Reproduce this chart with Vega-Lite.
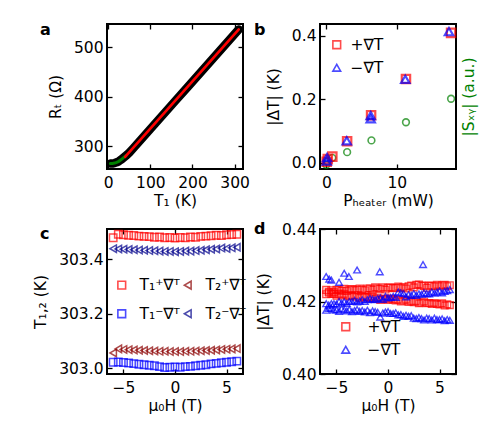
{
  "$schema": "https://vega.github.io/schema/vega-lite/v6.json",
  "background": "white",
  "padding": {"left": 32, "top": 21, "right": 5, "bottom": 5},
  "config": {
    "font": "DejaVu Sans",
    "view": {"stroke": "black", "strokeWidth": 2},
    "axis": {"domain": false, "grid": false, "minExtent": 0, "tickSize": -5, "tickWidth": 1.3, "tickColor": "black", "labelFontSize": 15.5, "labelColor": "black", "labelPadding": 9, "labelFlush": false, "labelOverlap": false, "titleFontSize": 15.5, "titleFontWeight": "normal", "titleColor": "black"},
    "axisX": {"titlePadding": 3, "labelPadding": 11},
    "axisY": {"titlePadding": 10},
    "legend": {"padding": 0, "labelFontSize": 15.5, "labelColor": "black", "symbolStrokeWidth": 1.6, "symbolSize": 60, "rowPadding": 6},
    "title": {"fontSize": 16, "fontWeight": "bold", "anchor": "start", "frame": "group", "offset": -15, "dx": -67, "color": "black"}
  },
  "columns": 2,
  "align": "each",
  "spacing": {"row": 10, "column": 2},
  "resolve": {
    "scale": {"color": "independent", "shape": "independent"},
    "legend": {"color": "independent", "shape": "independent"}
  },
  "concat": [
    {
      "title": {"text": "a"},
      "width": 136, "height": 145,
      "data": {"values": [
        {"t": 5, "r": 265, "k": "meas"}, {"t": 10, "r": 265.2, "k": "meas"}, {"t": 15, "r": 266, "k": "meas"}, {"t": 20, "r": 267.5, "k": "meas"},
        {"t": 25, "r": 269.5, "k": "meas"}, {"t": 30, "r": 272.5, "k": "meas"}, {"t": 35, "r": 276, "k": "meas"}, {"t": 40, "r": 279.5, "k": "meas"},
        {"t": 45, "r": 283, "k": "meas"}, {"t": 50, "r": 287, "k": "meas"}, {"t": 60, "r": 296.5, "k": "meas"}, {"t": 80, "r": 315.7, "k": "meas"},
        {"t": 100, "r": 334.9, "k": "meas"}, {"t": 130, "r": 363.6, "k": "meas"}, {"t": 160, "r": 392.4, "k": "meas"}, {"t": 190, "r": 421.1, "k": "meas"},
        {"t": 220, "r": 449.8, "k": "meas"}, {"t": 250, "r": 478.6, "k": "meas"}, {"t": 280, "r": 507.3, "k": "meas"}, {"t": 310, "r": 536, "k": "meas"},
        {"t": 5, "r": 265, "k": "low"}, {"t": 10, "r": 265.2, "k": "low"}, {"t": 15, "r": 266, "k": "low"}, {"t": 20, "r": 267.5, "k": "low"},
        {"t": 25, "r": 269.5, "k": "low"}, {"t": 30, "r": 272.5, "k": "low"}, {"t": 35, "r": 276, "k": "low"}, {"t": 42, "r": 281, "k": "low"},
        {"t": 40, "r": 278.7, "k": "fit"}, {"t": 310, "r": 536, "k": "fit"}
      ]},
      "layer": [
        {
          "transform": [{"filter": "datum.k === 'meas'"}],
          "mark": {"type": "line", "color": "black", "strokeWidth": 8.5, "strokeCap": "round", "strokeJoin": "round"},
          "encoding": {
            "x": {"field": "t", "type": "quantitative", "scale": {"domain": [-3, 320], "nice": false, "zero": false}, "axis": {"values": [0, 100, 200, 300], "title": "T₁ (K)"}},
            "y": {"field": "r", "type": "quantitative", "scale": {"domain": [254, 547], "nice": false, "zero": false}, "axis": {"values": [300, 400, 500], "title": "Rₜ (Ω)"}}
          }
        },
        {
          "transform": [{"filter": "datum.k === 'low'"}],
          "mark": {"type": "line", "color": "#008000", "strokeWidth": 3, "strokeCap": "round"},
          "encoding": {
            "x": {"field": "t", "type": "quantitative", "axis": null},
            "y": {"field": "r", "type": "quantitative", "axis": null}
          }
        },
        {
          "transform": [{"filter": "datum.k === 'fit'"}],
          "mark": {"type": "line", "color": "#ff0000", "strokeWidth": 2.6, "strokeCap": "round"},
          "encoding": {
            "x": {"field": "t", "type": "quantitative", "axis": null},
            "y": {"field": "r", "type": "quantitative", "axis": null}
          }
        },
        {
          "transform": [{"filter": "datum.k === 'fit'"}],
          "mark": {"type": "point", "opacity": 0},
          "encoding": {
            "x": {"field": "t", "type": "quantitative", "axis": {"orient": "top", "labels": false, "title": null, "values": [0, 100, 200, 300]}},
            "y": {"field": "r", "type": "quantitative", "axis": {"orient": "right", "labels": false, "title": null, "values": [300, 400, 500]}}
          }
        }
      ],
      "resolve": {"axis": {"x": "independent", "y": "independent"}}
    },
    {
      "title": {"text": "b", "dx": -66},
      "width": 136, "height": 145,
      "data": {"values": [
        {"p": 0.05, "v": 0.004, "s": "+∇T"}, {"p": 0.2, "v": 0.012, "s": "+∇T"}, {"p": 0.85, "v": 0.02, "s": "+∇T"}, {"p": 2.95, "v": 0.068, "s": "+∇T"},
        {"p": 6.35, "v": 0.15, "s": "+∇T"}, {"p": 11.3, "v": 0.264, "s": "+∇T"}, {"p": 17.7, "v": 0.409, "s": "+∇T"},
        {"p": 0.05, "v": 0.006, "s": "−∇T"}, {"p": 0.1, "v": 0.017, "s": "−∇T"}, {"p": 2.9, "v": 0.07, "s": "−∇T"}, {"p": 6.3, "v": 0.139, "s": "−∇T"},
        {"p": 6.3, "v": 0.149, "s": "−∇T"}, {"p": 11.2, "v": 0.263, "s": "−∇T"}, {"p": 17.4, "v": 0.413, "s": "−∇T"},
        {"p": 0.0, "v": -0.006, "s": "S"}, {"p": 0.1, "v": 0.004, "s": "S"}, {"p": 0.85, "v": 0.016, "s": "S"}, {"p": 2.95, "v": 0.034, "s": "S"},
        {"p": 6.4, "v": 0.071, "s": "S"}, {"p": 11.3, "v": 0.128, "s": "S"}, {"p": 17.7, "v": 0.202, "s": "S"}
      ]},
      "layer": [
        {
          "transform": [{"filter": "datum.s === 'S'"}],
          "mark": {"type": "point", "shape": "circle", "filled": false, "color": "#008000", "strokeWidth": 1.6, "size": 45},
          "encoding": {
            "x": {"field": "p", "type": "quantitative", "scale": {"domain": [-0.9, 18.4], "nice": false, "zero": false}, "axis": null},
            "y": {"field": "v", "type": "quantitative", "scale": {"domain": [-0.019, 0.437], "nice": false, "zero": false}, "axis": {"orient": "right", "labels": false, "ticks": false, "title": "|Sₓᵧ| (a.u.)", "titleColor": "#008000", "titleAngle": 270, "titleBaseline": "top", "titlePadding": 5}}
          }
        },
        {
          "transform": [{"filter": "datum.s !== 'S'"}],
          "mark": {"type": "point", "filled": false, "strokeWidth": 2.2, "size": 70},
          "encoding": {
            "x": {"field": "p", "type": "quantitative", "axis": {"values": [0, 10], "title": "Pₕₑₐₜₑᵣ (mW)"}},
            "y": {"field": "v", "type": "quantitative", "axis": {"values": [0, 0.2, 0.4], "format": ".1f", "title": "|ΔT| (K)"}},
            "color": {"field": "s", "type": "nominal", "scale": {"domain": ["+∇T", "−∇T"], "range": ["#ff0000", "#0000ff"]}, "legend": {"title": null, "orient": "none", "legendX": 9, "legendY": 13, "labelOffset": 6}},
            "shape": {"field": "s", "type": "nominal", "scale": {"domain": ["+∇T", "−∇T"], "range": ["square", "triangle-up"]}, "legend": {"title": null, "orient": "none", "legendX": 9, "legendY": 13, "labelOffset": 6}}
          }
        },
        {
          "transform": [{"filter": "datum.s !== 'S'"}],
          "mark": {"type": "point", "opacity": 0},
          "encoding": {
            "x": {"field": "p", "type": "quantitative", "axis": {"orient": "top", "labels": false, "title": null, "values": [0, 10]}},
            "y": {"field": "v", "type": "quantitative", "axis": null}
          }
        }
      ],
      "resolve": {"axis": {"x": "independent", "y": "independent"}}
    },
    {
      "title": {"text": "c"},
      "width": 136, "height": 145,
      "data": {"values": [
        {"h": -6, "t": 303.478, "s": "T₁⁺∇ᵀ"}, {"h": -5.5, "t": 303.491, "s": "T₁⁺∇ᵀ"}, {"h": -5, "t": 303.489, "s": "T₁⁺∇ᵀ"}, {"h": -4.5, "t": 303.487, "s": "T₁⁺∇ᵀ"},
        {"h": -4, "t": 303.486, "s": "T₁⁺∇ᵀ"}, {"h": -3.5, "t": 303.484, "s": "T₁⁺∇ᵀ"}, {"h": -3, "t": 303.483, "s": "T₁⁺∇ᵀ"}, {"h": -2.5, "t": 303.482, "s": "T₁⁺∇ᵀ"},
        {"h": -2, "t": 303.48, "s": "T₁⁺∇ᵀ"}, {"h": -1.5, "t": 303.481, "s": "T₁⁺∇ᵀ"}, {"h": -1, "t": 303.478, "s": "T₁⁺∇ᵀ"}, {"h": -0.5, "t": 303.479, "s": "T₁⁺∇ᵀ"},
        {"h": 0, "t": 303.477, "s": "T₁⁺∇ᵀ"}, {"h": 0.5, "t": 303.479, "s": "T₁⁺∇ᵀ"}, {"h": 1, "t": 303.478, "s": "T₁⁺∇ᵀ"}, {"h": 1.5, "t": 303.481, "s": "T₁⁺∇ᵀ"},
        {"h": 2, "t": 303.48, "s": "T₁⁺∇ᵀ"}, {"h": 2.5, "t": 303.483, "s": "T₁⁺∇ᵀ"}, {"h": 3, "t": 303.484, "s": "T₁⁺∇ᵀ"}, {"h": 3.5, "t": 303.485, "s": "T₁⁺∇ᵀ"},
        {"h": 4, "t": 303.487, "s": "T₁⁺∇ᵀ"}, {"h": 4.5, "t": 303.486, "s": "T₁⁺∇ᵀ"}, {"h": 5, "t": 303.489, "s": "T₁⁺∇ᵀ"}, {"h": 5.5, "t": 303.49, "s": "T₁⁺∇ᵀ"},
        {"h": 6, "t": 303.491, "s": "T₁⁺∇ᵀ"},
        {"h": -6, "t": 303.056, "s": "T₂⁺∇ᵀ"}, {"h": -5.5, "t": 303.071, "s": "T₂⁺∇ᵀ"}, {"h": -5, "t": 303.069, "s": "T₂⁺∇ᵀ"}, {"h": -4.5, "t": 303.068, "s": "T₂⁺∇ᵀ"},
        {"h": -4, "t": 303.067, "s": "T₂⁺∇ᵀ"}, {"h": -3.5, "t": 303.066, "s": "T₂⁺∇ᵀ"}, {"h": -3, "t": 303.065, "s": "T₂⁺∇ᵀ"}, {"h": -2.5, "t": 303.064, "s": "T₂⁺∇ᵀ"},
        {"h": -2, "t": 303.063, "s": "T₂⁺∇ᵀ"}, {"h": -1.5, "t": 303.062, "s": "T₂⁺∇ᵀ"}, {"h": -1, "t": 303.062, "s": "T₂⁺∇ᵀ"}, {"h": -0.5, "t": 303.061, "s": "T₂⁺∇ᵀ"},
        {"h": 0, "t": 303.061, "s": "T₂⁺∇ᵀ"}, {"h": 0.5, "t": 303.061, "s": "T₂⁺∇ᵀ"}, {"h": 1, "t": 303.062, "s": "T₂⁺∇ᵀ"}, {"h": 1.5, "t": 303.062, "s": "T₂⁺∇ᵀ"},
        {"h": 2, "t": 303.063, "s": "T₂⁺∇ᵀ"}, {"h": 2.5, "t": 303.064, "s": "T₂⁺∇ᵀ"}, {"h": 3, "t": 303.065, "s": "T₂⁺∇ᵀ"}, {"h": 3.5, "t": 303.066, "s": "T₂⁺∇ᵀ"},
        {"h": 4, "t": 303.067, "s": "T₂⁺∇ᵀ"}, {"h": 4.5, "t": 303.069, "s": "T₂⁺∇ᵀ"}, {"h": 5, "t": 303.07, "s": "T₂⁺∇ᵀ"}, {"h": 5.5, "t": 303.071, "s": "T₂⁺∇ᵀ"},
        {"h": 6, "t": 303.072, "s": "T₂⁺∇ᵀ"},
        {"h": -6, "t": 303.022, "s": "T₁⁻∇ᵀ"}, {"h": -5.5, "t": 303.023, "s": "T₁⁻∇ᵀ"}, {"h": -5, "t": 303.021, "s": "T₁⁻∇ᵀ"}, {"h": -4.5, "t": 303.019, "s": "T₁⁻∇ᵀ"},
        {"h": -4, "t": 303.017, "s": "T₁⁻∇ᵀ"}, {"h": -3.5, "t": 303.015, "s": "T₁⁻∇ᵀ"}, {"h": -3, "t": 303.013, "s": "T₁⁻∇ᵀ"}, {"h": -2.5, "t": 303.011, "s": "T₁⁻∇ᵀ"},
        {"h": -2, "t": 303.009, "s": "T₁⁻∇ᵀ"}, {"h": -1.5, "t": 303.006, "s": "T₁⁻∇ᵀ"}, {"h": -1, "t": 303.003, "s": "T₁⁻∇ᵀ"}, {"h": -0.5, "t": 303.004, "s": "T₁⁻∇ᵀ"},
        {"h": 0, "t": 303.005, "s": "T₁⁻∇ᵀ"}, {"h": 0.5, "t": 303.004, "s": "T₁⁻∇ᵀ"}, {"h": 1, "t": 303.006, "s": "T₁⁻∇ᵀ"}, {"h": 1.5, "t": 303.007, "s": "T₁⁻∇ᵀ"},
        {"h": 2, "t": 303.009, "s": "T₁⁻∇ᵀ"}, {"h": 2.5, "t": 303.011, "s": "T₁⁻∇ᵀ"}, {"h": 3, "t": 303.013, "s": "T₁⁻∇ᵀ"}, {"h": 3.5, "t": 303.016, "s": "T₁⁻∇ᵀ"},
        {"h": 4, "t": 303.018, "s": "T₁⁻∇ᵀ"}, {"h": 4.5, "t": 303.02, "s": "T₁⁻∇ᵀ"}, {"h": 5, "t": 303.022, "s": "T₁⁻∇ᵀ"}, {"h": 5.5, "t": 303.024, "s": "T₁⁻∇ᵀ"},
        {"h": 6, "t": 303.026, "s": "T₁⁻∇ᵀ"},
        {"h": -6, "t": 303.438, "s": "T₂⁻∇ᵀ"}, {"h": -5.5, "t": 303.437, "s": "T₂⁻∇ᵀ"}, {"h": -5, "t": 303.436, "s": "T₂⁻∇ᵀ"}, {"h": -4.5, "t": 303.435, "s": "T₂⁻∇ᵀ"},
        {"h": -4, "t": 303.434, "s": "T₂⁻∇ᵀ"}, {"h": -3.5, "t": 303.433, "s": "T₂⁻∇ᵀ"}, {"h": -3, "t": 303.432, "s": "T₂⁻∇ᵀ"}, {"h": -2.5, "t": 303.431, "s": "T₂⁻∇ᵀ"},
        {"h": -2, "t": 303.43, "s": "T₂⁻∇ᵀ"}, {"h": -1.5, "t": 303.429, "s": "T₂⁻∇ᵀ"}, {"h": -1, "t": 303.428, "s": "T₂⁻∇ᵀ"}, {"h": -0.5, "t": 303.428, "s": "T₂⁻∇ᵀ"},
        {"h": 0, "t": 303.427, "s": "T₂⁻∇ᵀ"}, {"h": 0.5, "t": 303.428, "s": "T₂⁻∇ᵀ"}, {"h": 1, "t": 303.429, "s": "T₂⁻∇ᵀ"}, {"h": 1.5, "t": 303.429, "s": "T₂⁻∇ᵀ"},
        {"h": 2, "t": 303.431, "s": "T₂⁻∇ᵀ"}, {"h": 2.5, "t": 303.432, "s": "T₂⁻∇ᵀ"}, {"h": 3, "t": 303.434, "s": "T₂⁻∇ᵀ"}, {"h": 3.5, "t": 303.436, "s": "T₂⁻∇ᵀ"},
        {"h": 4, "t": 303.437, "s": "T₂⁻∇ᵀ"}, {"h": 4.5, "t": 303.44, "s": "T₂⁻∇ᵀ"}, {"h": 5, "t": 303.439, "s": "T₂⁻∇ᵀ"}, {"h": 5.5, "t": 303.441, "s": "T₂⁻∇ᵀ"},
        {"h": 6, "t": 303.443, "s": "T₂⁻∇ᵀ"}
      ]},
      "layer": [
        {
          "mark": {"type": "point", "filled": false, "strokeWidth": 1.5, "size": 55},
          "encoding": {
            "x": {"field": "h", "type": "quantitative", "scale": {"domain": [-6.6, 6.6], "nice": false, "zero": false}, "axis": {"values": [-5, 0, 5], "title": "μ₀H (T)"}},
            "y": {"field": "t", "type": "quantitative", "scale": {"domain": [302.979, 303.51], "nice": false, "zero": false}, "axis": {"values": [303.0, 303.2, 303.4], "format": ".1f", "title": "T₁,₂ (K)"}},
            "color": {"field": "s", "type": "nominal", "scale": {"domain": ["T₁⁺∇ᵀ", "T₁⁻∇ᵀ", "T₂⁺∇ᵀ", "T₂⁻∇ᵀ"], "range": ["#ff0000", "#0000ff", "#8b0000", "#00008b"]}, "legend": {"title": null, "orient": "none", "legendX": 7, "legendY": 48, "columns": 2, "columnPadding": 0, "rowPadding": 12, "labelOffset": 10}},
            "shape": {"field": "s", "type": "nominal", "scale": {"domain": ["T₁⁺∇ᵀ", "T₁⁻∇ᵀ", "T₂⁺∇ᵀ", "T₂⁻∇ᵀ"], "range": ["square", "square", "triangle-left", "triangle-left"]}, "legend": {"title": null, "orient": "none", "legendX": 7, "legendY": 48, "columns": 2, "columnPadding": 0, "rowPadding": 12, "labelOffset": 10}}
          }
        },
        {
          "mark": {"type": "point", "opacity": 0},
          "encoding": {
            "x": {"field": "h", "type": "quantitative", "axis": {"orient": "top", "labels": false, "title": null, "values": [-5, 0, 5]}},
            "y": {"field": "t", "type": "quantitative", "axis": {"orient": "right", "labels": false, "title": null, "values": [303.0, 303.2, 303.4]}}
          }
        }
      ],
      "resolve": {"axis": {"x": "independent", "y": "independent"}}
    },
    {
      "title": {"text": "d", "dx": -66},
      "width": 136, "height": 145,
      "data": {"values": [
        {"h": -6, "d": 0.4232, "s": "+∇T"}, {"h": -5.75, "d": 0.4227, "s": "+∇T"}, {"h": -5.5, "d": 0.4231, "s": "+∇T"}, {"h": -5.25, "d": 0.4226, "s": "+∇T"},
        {"h": -5, "d": 0.4232, "s": "+∇T"}, {"h": -4.75, "d": 0.4231, "s": "+∇T"}, {"h": -4.5, "d": 0.423, "s": "+∇T"}, {"h": -4.25, "d": 0.4235, "s": "+∇T"},
        {"h": -4, "d": 0.4229, "s": "+∇T"}, {"h": -3.75, "d": 0.4233, "s": "+∇T"}, {"h": -3.5, "d": 0.4234, "s": "+∇T"}, {"h": -3.25, "d": 0.4231, "s": "+∇T"},
        {"h": -3, "d": 0.4233, "s": "+∇T"}, {"h": -2.75, "d": 0.4236, "s": "+∇T"}, {"h": -2.5, "d": 0.4233, "s": "+∇T"}, {"h": -2.25, "d": 0.4231, "s": "+∇T"},
        {"h": -2, "d": 0.4236, "s": "+∇T"}, {"h": -1.75, "d": 0.4236, "s": "+∇T"}, {"h": -1.5, "d": 0.4233, "s": "+∇T"}, {"h": -1.25, "d": 0.4239, "s": "+∇T"},
        {"h": -1, "d": 0.4236, "s": "+∇T"}, {"h": -0.75, "d": 0.4235, "s": "+∇T"}, {"h": -0.5, "d": 0.4239, "s": "+∇T"}, {"h": -0.25, "d": 0.4233, "s": "+∇T"},
        {"h": 0, "d": 0.4238, "s": "+∇T"}, {"h": 0.25, "d": 0.4239, "s": "+∇T"}, {"h": 0.5, "d": 0.4237, "s": "+∇T"}, {"h": 0.75, "d": 0.4238, "s": "+∇T"},
        {"h": 1, "d": 0.4241, "s": "+∇T"}, {"h": 1.25, "d": 0.4237, "s": "+∇T"}, {"h": 1.5, "d": 0.424, "s": "+∇T"}, {"h": 1.75, "d": 0.4236, "s": "+∇T"},
        {"h": 2, "d": 0.4242, "s": "+∇T"}, {"h": 2.25, "d": 0.4244, "s": "+∇T"}, {"h": 2.5, "d": 0.4239, "s": "+∇T"}, {"h": 2.75, "d": 0.4246, "s": "+∇T"},
        {"h": 3, "d": 0.4247, "s": "+∇T"}, {"h": 3.25, "d": 0.4244, "s": "+∇T"}, {"h": 3.5, "d": 0.4243, "s": "+∇T"}, {"h": 3.75, "d": 0.4238, "s": "+∇T"},
        {"h": 4, "d": 0.4244, "s": "+∇T"}, {"h": 4.25, "d": 0.4243, "s": "+∇T"}, {"h": 4.5, "d": 0.4242, "s": "+∇T"}, {"h": 4.75, "d": 0.4246, "s": "+∇T"},
        {"h": 5, "d": 0.4242, "s": "+∇T"}, {"h": 5.25, "d": 0.4245, "s": "+∇T"}, {"h": 5.5, "d": 0.4246, "s": "+∇T"}, {"h": 5.75, "d": 0.4242, "s": "+∇T"},
        {"h": 6, "d": 0.4245, "s": "+∇T"},
        {"h": -6, "d": 0.422, "s": "+∇T"}, {"h": -5.75, "d": 0.4224, "s": "+∇T"}, {"h": -5.5, "d": 0.4221, "s": "+∇T"}, {"h": -5.25, "d": 0.4221, "s": "+∇T"},
        {"h": -5, "d": 0.4216, "s": "+∇T"}, {"h": -4.75, "d": 0.4221, "s": "+∇T"}, {"h": -4.5, "d": 0.4217, "s": "+∇T"}, {"h": -4.25, "d": 0.4221, "s": "+∇T"},
        {"h": -4, "d": 0.4217, "s": "+∇T"}, {"h": -3.75, "d": 0.4214, "s": "+∇T"}, {"h": -3.5, "d": 0.4216, "s": "+∇T"}, {"h": -3.25, "d": 0.4218, "s": "+∇T"},
        {"h": -3, "d": 0.4213, "s": "+∇T"}, {"h": -2.75, "d": 0.421, "s": "+∇T"}, {"h": -2.5, "d": 0.4215, "s": "+∇T"}, {"h": -2.25, "d": 0.4212, "s": "+∇T"},
        {"h": -2, "d": 0.4212, "s": "+∇T"}, {"h": -1.75, "d": 0.4209, "s": "+∇T"}, {"h": -1.5, "d": 0.4213, "s": "+∇T"}, {"h": -1.25, "d": 0.4208, "s": "+∇T"},
        {"h": -1, "d": 0.4211, "s": "+∇T"}, {"h": -0.75, "d": 0.4204, "s": "+∇T"}, {"h": -0.5, "d": 0.4207, "s": "+∇T"}, {"h": -0.25, "d": 0.4208, "s": "+∇T"},
        {"h": 0, "d": 0.4204, "s": "+∇T"}, {"h": 0.25, "d": 0.4208, "s": "+∇T"}, {"h": 0.5, "d": 0.4206, "s": "+∇T"}, {"h": 0.75, "d": 0.4203, "s": "+∇T"},
        {"h": 1, "d": 0.4205, "s": "+∇T"}, {"h": 1.25, "d": 0.42, "s": "+∇T"}, {"h": 1.5, "d": 0.4202, "s": "+∇T"}, {"h": 1.75, "d": 0.4205, "s": "+∇T"},
        {"h": 2, "d": 0.4199, "s": "+∇T"}, {"h": 2.25, "d": 0.4201, "s": "+∇T"}, {"h": 2.5, "d": 0.4198, "s": "+∇T"}, {"h": 2.75, "d": 0.4201, "s": "+∇T"},
        {"h": 3, "d": 0.4195, "s": "+∇T"}, {"h": 3.25, "d": 0.4197, "s": "+∇T"}, {"h": 3.5, "d": 0.42, "s": "+∇T"}, {"h": 3.75, "d": 0.4195, "s": "+∇T"},
        {"h": 4, "d": 0.4196, "s": "+∇T"}, {"h": 4.25, "d": 0.4193, "s": "+∇T"}, {"h": 4.5, "d": 0.4196, "s": "+∇T"}, {"h": 4.75, "d": 0.4193, "s": "+∇T"},
        {"h": 5, "d": 0.4192, "s": "+∇T"}, {"h": 5.25, "d": 0.4195, "s": "+∇T"}, {"h": 5.5, "d": 0.4189, "s": "+∇T"}, {"h": 5.75, "d": 0.4192, "s": "+∇T"},
        {"h": 6, "d": 0.419, "s": "+∇T"},
        {"h": -6, "d": 0.4194, "s": "−∇T"}, {"h": -5.75, "d": 0.419, "s": "−∇T"}, {"h": -5.5, "d": 0.4194, "s": "−∇T"}, {"h": -5.25, "d": 0.4194, "s": "−∇T"},
        {"h": -5, "d": 0.4193, "s": "−∇T"}, {"h": -4.75, "d": 0.42, "s": "−∇T"}, {"h": -4.5, "d": 0.4196, "s": "−∇T"}, {"h": -4.25, "d": 0.4199, "s": "−∇T"},
        {"h": -4, "d": 0.4195, "s": "−∇T"}, {"h": -3.75, "d": 0.42, "s": "−∇T"}, {"h": -3.5, "d": 0.42, "s": "−∇T"}, {"h": -3.25, "d": 0.4203, "s": "−∇T"},
        {"h": -3, "d": 0.4199, "s": "−∇T"}, {"h": -2.75, "d": 0.4201, "s": "−∇T"}, {"h": -2.5, "d": 0.4205, "s": "−∇T"}, {"h": -2.25, "d": 0.42, "s": "−∇T"},
        {"h": -2, "d": 0.4205, "s": "−∇T"}, {"h": -1.75, "d": 0.4208, "s": "−∇T"}, {"h": -1.5, "d": 0.4206, "s": "−∇T"}, {"h": -1.25, "d": 0.4205, "s": "−∇T"},
        {"h": -1, "d": 0.4208, "s": "−∇T"}, {"h": -0.75, "d": 0.421, "s": "−∇T"}, {"h": -0.5, "d": 0.4206, "s": "−∇T"}, {"h": -0.25, "d": 0.4214, "s": "−∇T"},
        {"h": 0, "d": 0.421, "s": "−∇T"}, {"h": 0.25, "d": 0.4211, "s": "−∇T"}, {"h": 0.5, "d": 0.4214, "s": "−∇T"}, {"h": 0.75, "d": 0.4211, "s": "−∇T"},
        {"h": 1, "d": 0.4226, "s": "−∇T"}, {"h": 1.25, "d": 0.4224, "s": "−∇T"}, {"h": 1.5, "d": 0.4222, "s": "−∇T"}, {"h": 1.75, "d": 0.4213, "s": "−∇T"},
        {"h": 2, "d": 0.4219, "s": "−∇T"}, {"h": 2.25, "d": 0.4217, "s": "−∇T"}, {"h": 2.5, "d": 0.4222, "s": "−∇T"}, {"h": 2.75, "d": 0.4217, "s": "−∇T"},
        {"h": 3, "d": 0.4221, "s": "−∇T"}, {"h": 3.25, "d": 0.422, "s": "−∇T"}, {"h": 3.5, "d": 0.4224, "s": "−∇T"}, {"h": 3.75, "d": 0.4222, "s": "−∇T"},
        {"h": 4, "d": 0.4221, "s": "−∇T"}, {"h": 4.25, "d": 0.4226, "s": "−∇T"}, {"h": 4.5, "d": 0.4223, "s": "−∇T"}, {"h": 4.75, "d": 0.4226, "s": "−∇T"},
        {"h": 5, "d": 0.4229, "s": "−∇T"}, {"h": 5.25, "d": 0.4224, "s": "−∇T"}, {"h": 5.5, "d": 0.4228, "s": "−∇T"}, {"h": 5.75, "d": 0.423, "s": "−∇T"},
        {"h": 6, "d": 0.4233, "s": "−∇T"},
        {"h": -6, "d": 0.4176, "s": "−∇T"}, {"h": -5.75, "d": 0.4181, "s": "−∇T"}, {"h": -5.5, "d": 0.4182, "s": "−∇T"}, {"h": -5.25, "d": 0.4177, "s": "−∇T"},
        {"h": -5, "d": 0.4177, "s": "−∇T"}, {"h": -4.75, "d": 0.4173, "s": "−∇T"}, {"h": -4.5, "d": 0.418, "s": "−∇T"}, {"h": -4.25, "d": 0.4177, "s": "−∇T"},
        {"h": -4, "d": 0.4174, "s": "−∇T"}, {"h": -3.75, "d": 0.4178, "s": "−∇T"}, {"h": -3.5, "d": 0.4172, "s": "−∇T"}, {"h": -3.25, "d": 0.4175, "s": "−∇T"},
        {"h": -3, "d": 0.4178, "s": "−∇T"}, {"h": -2.75, "d": 0.4173, "s": "−∇T"}, {"h": -2.5, "d": 0.4175, "s": "−∇T"}, {"h": -2.25, "d": 0.4171, "s": "−∇T"},
        {"h": -2, "d": 0.4176, "s": "−∇T"}, {"h": -1.75, "d": 0.4169, "s": "−∇T"}, {"h": -1.5, "d": 0.4174, "s": "−∇T"}, {"h": -1.25, "d": 0.4172, "s": "−∇T"},
        {"h": -1, "d": 0.417, "s": "−∇T"}, {"h": -0.75, "d": 0.4157, "s": "−∇T"}, {"h": -0.5, "d": 0.4168, "s": "−∇T"}, {"h": -0.25, "d": 0.4171, "s": "−∇T"},
        {"h": 0, "d": 0.4172, "s": "−∇T"}, {"h": 0.25, "d": 0.4167, "s": "−∇T"}, {"h": 0.5, "d": 0.4167, "s": "−∇T"}, {"h": 0.75, "d": 0.4169, "s": "−∇T"},
        {"h": 1, "d": 0.4163, "s": "−∇T"}, {"h": 1.25, "d": 0.4164, "s": "−∇T"}, {"h": 1.5, "d": 0.4159, "s": "−∇T"}, {"h": 1.75, "d": 0.4162, "s": "−∇T"},
        {"h": 2, "d": 0.4159, "s": "−∇T"}, {"h": 2.25, "d": 0.4161, "s": "−∇T"}, {"h": 2.5, "d": 0.4154, "s": "−∇T"}, {"h": 2.75, "d": 0.4153, "s": "−∇T"},
        {"h": 3, "d": 0.4156, "s": "−∇T"}, {"h": 3.25, "d": 0.4153, "s": "−∇T"}, {"h": 3.5, "d": 0.4149, "s": "−∇T"}, {"h": 3.75, "d": 0.4154, "s": "−∇T"},
        {"h": 4, "d": 0.4153, "s": "−∇T"}, {"h": 4.25, "d": 0.4149, "s": "−∇T"}, {"h": 4.5, "d": 0.4154, "s": "−∇T"}, {"h": 4.75, "d": 0.415, "s": "−∇T"},
        {"h": 5, "d": 0.415, "s": "−∇T"}, {"h": 5.25, "d": 0.4152, "s": "−∇T"}, {"h": 5.5, "d": 0.4147, "s": "−∇T"}, {"h": 5.75, "d": 0.415, "s": "−∇T"},
        {"h": 6, "d": 0.4148, "s": "−∇T"},
        {"h": -6.0, "d": 0.4269, "s": "−∇T"}, {"h": -5.7, "d": 0.4262, "s": "−∇T"}, {"h": -5.5, "d": 0.4259, "s": "−∇T"}, {"h": -4.75, "d": 0.4253, "s": "−∇T"},
        {"h": -4.25, "d": 0.4278, "s": "−∇T"}, {"h": -3.8, "d": 0.4269, "s": "−∇T"}, {"h": -3.0, "d": 0.4287, "s": "−∇T"}, {"h": -0.8, "d": 0.4282, "s": "−∇T"},
        {"h": 3.4, "d": 0.4302, "s": "−∇T"}
      ]},
      "layer": [
        {
          "mark": {"type": "point", "filled": false, "strokeWidth": 1.4, "size": 45},
          "encoding": {
            "x": {"field": "h", "type": "quantitative", "scale": {"domain": [-6.6, 6.6], "nice": false, "zero": false}, "axis": {"values": [-5, 0, 5], "title": "μ₀H (T)"}},
            "y": {"field": "d", "type": "quantitative", "scale": {"domain": [0.4, 0.44], "nice": false, "zero": false}, "axis": {"values": [0.40, 0.42, 0.44], "format": ".2f", "title": "|ΔT| (K)"}},
            "color": {"field": "s", "type": "nominal", "scale": {"domain": ["+∇T", "−∇T"], "range": ["#ff0000", "#0000ff"]}, "legend": {"title": null, "orient": "none", "legendX": 18, "legendY": 90, "labelOffset": 14}},
            "shape": {"field": "s", "type": "nominal", "scale": {"domain": ["+∇T", "−∇T"], "range": ["square", "triangle-up"]}, "legend": {"title": null, "orient": "none", "legendX": 18, "legendY": 90, "labelOffset": 14}}
          }
        },
        {
          "mark": {"type": "point", "opacity": 0},
          "encoding": {
            "x": {"field": "h", "type": "quantitative", "axis": {"orient": "top", "labels": false, "title": null, "values": [-5, 0, 5]}},
            "y": {"field": "d", "type": "quantitative", "axis": {"orient": "right", "labels": false, "title": null, "values": [0.40, 0.42, 0.44]}}
          }
        }
      ],
      "resolve": {"axis": {"x": "independent", "y": "independent"}}
    }
  ]
}
